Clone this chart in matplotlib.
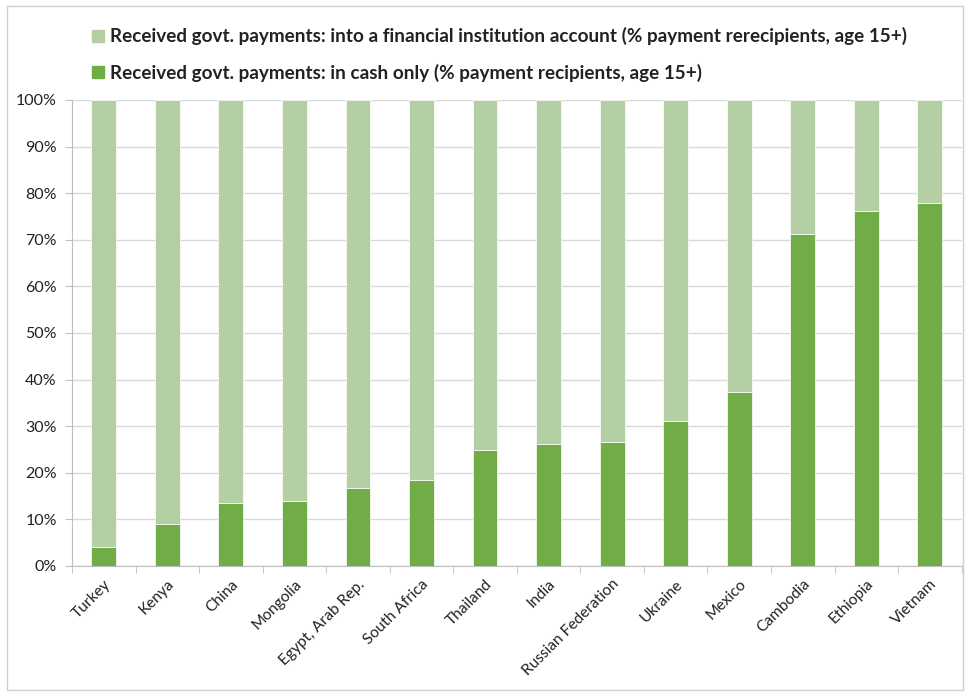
import numpy as np
import matplotlib.pyplot as plt
from matplotlib.patches import Rectangle, Patch

countries = ['Turkey', 'Kenya', 'China', 'Mongolia', 'Egypt, Arab Rep.', 'South Africa',
             'Thailand', 'India', 'Russian Federation', 'Ukraine', 'Mexico', 'Cambodia',
             'Ethiopia', 'Vietnam']
cash_only = [4.1, 9.0, 13.5, 13.9, 16.7, 18.4, 24.9, 26.2, 26.6, 31.1, 37.3, 71.3, 76.1, 77.9]
into_account = [100 - v for v in cash_only]

light = '#b3cfa3'
dark = '#70ad47'

plt.rcParams['font.family'] = ['Lato', 'DejaVu Sans']

fig = plt.figure(figsize=(9.66, 6.93), dpi=100)
ax = fig.add_axes([0.0745, 0.1833, 0.921, 0.6724])

x = np.arange(len(countries))
ax.bar(x, cash_only, width=0.39, color=dark, edgecolor='white', linewidth=0.5, zorder=3)
ax.bar(x, into_account, bottom=cash_only, width=0.39, color=light, edgecolor='white',
       linewidth=0.5, zorder=3)

ax.set_xlim(-0.5, len(countries) - 0.5)
ax.set_ylim(0, 100)
ax.set_yticks(np.arange(0, 101, 10))
ax.set_yticklabels([f'{v}%' for v in range(0, 101, 10)], fontsize=11.5, color='#222222')
ax.yaxis.grid(True, color='#d9d9d9', linewidth=1, zorder=0)

ax.set_xticks(x)
ax.set_xticklabels(countries, rotation=45, ha='right', rotation_mode='anchor',
                   fontsize=11.2, color='#222222')
ax.tick_params(axis='x', length=0, pad=8)
ax.set_xticks(np.arange(-0.5, len(countries), 1), minor=True)
ax.tick_params(axis='x', which='minor', length=5, color='#bfbfbf')
ax.tick_params(axis='y', length=5, color='#bfbfbf', pad=6)

for s in ['top', 'right']:
    ax.spines[s].set_visible(False)
for s in ['left', 'bottom']:
    ax.spines[s].set_color('#bfbfbf')

handles = [Patch(color=light, label='Received govt. payments: into a financial institution account (% payment rerecipients, age 15+)'),
           Patch(color=dark, label='Received govt. payments: in cash only (% payment recipients, age 15+)')]
fig.legend(handles=handles, loc='upper left', bbox_to_anchor=(0.078, 0.985), frameon=False,
           prop={'weight': 'bold', 'size': 13.6}, handlelength=0.6, handleheight=0.6,
           handletextpad=0.35, labelspacing=0.95, labelcolor='#222222')

fig.patches.append(Rectangle((0.007, 0.005), 0.99, 0.987, transform=fig.transFigure,
                             fill=False, edgecolor='#d0d0d0', linewidth=1))

plt.savefig('out.png', dpi=100)
